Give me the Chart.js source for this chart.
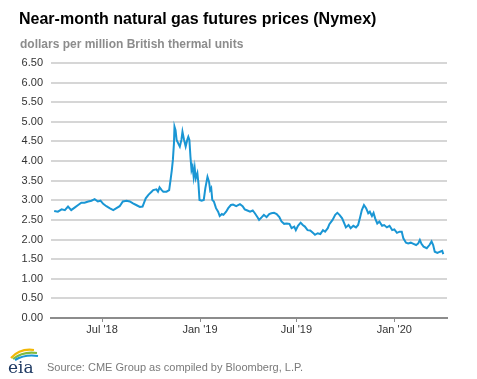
<!DOCTYPE html>
<html>
<head>
<meta charset="utf-8">
<script src="https://cdn.jsdelivr.net/npm/chart.js@4.4.1/dist/chart.umd.min.js"></script>
<style>
  html, body { margin: 0; padding: 0; background: #fff; }
  #wrap { position: relative; width: 477px; height: 379px; overflow: hidden; font-family: "Liberation Sans", Arial, sans-serif; }
  #c { position: absolute; left: 0; top: 0; }
  .title { position: absolute; left: 19px; top: 11px; font-size: 16px; line-height: 16px; font-weight: bold; color: #000; white-space: nowrap; }
  .sub { position: absolute; left: 20px; top: 38px; font-size: 12px; line-height: 12px; font-weight: bold; color: #8c8c8c; white-space: nowrap; }
  .src { position: absolute; left: 47px; top: 362px; font-size: 11px; line-height: 11px; color: #7a7a7a; white-space: nowrap; }
  #logo { position: absolute; left: 4px; top: 345px; }
</style>
</head>
<body>
<div id="wrap">
  <canvas id="c" width="477" height="379"></canvas>
  <div class="title">Near-month natural gas futures prices (Nymex)</div>
  <div class="sub">dollars per million British thermal units</div>
  <svg id="logo" width="40" height="34" viewBox="0 0 40 34">
    <path d="M7 13 Q16 3 30 5" stroke="#f2b705" stroke-width="2.2" fill="none"/>
    <path d="M9 14 Q19 6 33 8" stroke="#7dbb42" stroke-width="2.2" fill="none"/>
    <path d="M11 15 Q21 9 34 11" stroke="#1a96d4" stroke-width="2.2" fill="none"/>
    <text x="4" y="28" font-family="'DejaVu Serif', 'Liberation Serif', serif" font-size="17" fill="#1f3a63">eia</text>
  </svg>
  <div class="src">Source: CME Group as compiled by Bloomberg, L.P.</div>
</div>
<script>
const dates = [
'2018-04-02','2018-04-09','2018-04-16','2018-04-22','2018-04-28','2018-05-04','2018-05-11','2018-05-17','2018-05-23','2018-05-29',
'2018-06-05','2018-06-11','2018-06-17','2018-06-23','2018-06-28','2018-07-03','2018-07-09','2018-07-15','2018-07-22','2018-07-28',
'2018-08-03','2018-08-09','2018-08-16','2018-08-22','2018-08-28','2018-09-03','2018-09-10','2018-09-15','2018-09-21','2018-09-26',
'2018-10-02','2018-10-05','2018-10-11','2018-10-14','2018-10-17','2018-10-21','2018-10-24','2018-10-30','2018-11-04','2018-11-07',
'2018-11-09','2018-11-11','2018-11-13','2018-11-14','2018-11-16','2018-11-18','2018-11-21','2018-11-24','2018-11-27','2018-11-29',
'2018-12-02','2018-12-05','2018-12-08','2018-12-10','2018-12-12','2018-12-14','2018-12-16','2018-12-18','2018-12-20','2018-12-22',
'2018-12-24','2018-12-27','2018-12-29','2018-12-31','2019-01-04','2019-01-08','2019-01-11','2019-01-15','2019-01-18','2019-01-20',
'2019-01-22','2019-01-24','2019-01-27','2019-01-31','2019-02-04','2019-02-07','2019-02-11','2019-02-14','2019-02-19','2019-02-23',
'2019-02-28','2019-03-04','2019-03-10','2019-03-17','2019-03-22','2019-03-26','2019-03-31','2019-04-05','2019-04-10','2019-04-14',
'2019-04-19','2019-04-22','2019-04-27','2019-05-01','2019-05-06','2019-05-11','2019-05-15','2019-05-20','2019-05-25','2019-05-30',
'2019-06-03','2019-06-08','2019-06-13','2019-06-18','2019-06-22','2019-06-27','2019-06-30','2019-07-04','2019-07-09','2019-07-13',
'2019-07-17','2019-07-22','2019-07-27','2019-08-01','2019-08-05','2019-08-10','2019-08-15','2019-08-20','2019-08-24','2019-08-29',
'2019-09-01','2019-09-07','2019-09-12','2019-09-16','2019-09-20','2019-09-25','2019-09-29','2019-10-02','2019-10-07','2019-10-11',
'2019-10-16','2019-10-21','2019-10-25','2019-10-29','2019-11-01','2019-11-05','2019-11-09','2019-11-13','2019-11-16','2019-11-20',
'2019-11-23','2019-11-26','2019-11-30','2019-12-04','2019-12-09','2019-12-13','2019-12-18','2019-12-23','2019-12-28','2020-01-01',
'2020-01-06','2020-01-11','2020-01-15','2020-01-18','2020-01-23','2020-01-27','2020-02-01','2020-02-06','2020-02-11','2020-02-15',
'2020-02-18','2020-02-21','2020-02-25','2020-03-02','2020-03-07','2020-03-11','2020-03-14','2020-03-17','2020-03-22','2020-03-27',
'2020-03-31','2020-04-02'
];
const prices = [
2.73,2.71,2.77,2.75,2.84,2.75,2.82,2.88,2.94,2.94,
2.97,2.99,3.03,2.97,2.99,2.91,2.85,2.80,2.75,2.80,
2.85,2.97,2.99,2.97,2.92,2.88,2.83,2.84,3.05,3.14,
3.22,3.26,3.28,3.22,3.33,3.26,3.22,3.22,3.26,3.56,
3.77,4.03,4.45,4.88,4.79,4.54,4.45,4.37,4.54,4.75,
4.54,4.37,4.54,4.62,4.54,4.11,3.77,3.86,3.60,3.82,
3.56,3.69,3.43,3.01,2.99,3.01,3.31,3.60,3.47,3.26,
3.31,3.01,2.97,2.80,2.71,2.60,2.65,2.63,2.71,2.80,
2.88,2.89,2.85,2.90,2.85,2.77,2.74,2.71,2.74,2.67,
2.57,2.50,2.57,2.63,2.57,2.65,2.67,2.68,2.65,2.57,
2.46,2.40,2.41,2.40,2.29,2.33,2.24,2.35,2.43,2.37,
2.33,2.24,2.23,2.17,2.12,2.16,2.14,2.24,2.20,2.29,
2.39,2.50,2.63,2.68,2.63,2.54,2.41,2.31,2.37,2.29,
2.35,2.31,2.37,2.58,2.75,2.88,2.80,2.67,2.71,2.60,
2.68,2.54,2.41,2.46,2.35,2.37,2.31,2.35,2.24,2.26,
2.17,2.20,2.20,2.03,1.92,1.90,1.92,1.89,1.86,1.90,
1.99,1.89,1.82,1.78,1.86,1.95,1.86,1.69,1.66,1.69,
1.71,1.63
];
const tickDates = ['2018-07-01','2019-01-01','2019-07-01','2020-01-01'];
const tickLabels = ["Jul '18","Jan '19","Jul '19","Jan '20"];
const xRange = ['2018-03-27','2020-04-09'];

function dayNum(s) {
  const p = s.split('-').map(Number);
  return Date.UTC(p[0], p[1] - 1, p[2]) / 864e5;
}
const points = dates.map((d, i) => ({ x: dayNum(d), y: prices[i] }));

new Chart(document.getElementById('c'), {
  type: 'line',
  data: {
    datasets: [{
      data: points,
      borderColor: '#1a96d4',
      borderWidth: 2,
      pointRadius: 0,
      tension: 0,
      fill: false
    }]
  },
  options: {
    responsive: false,
    animation: false,
    layout: { padding: { left: 0, right: 30, top: 63, bottom: 0 } },
    plugins: { legend: { display: false }, tooltip: { enabled: false } },
    scales: {
      x: {
        type: 'linear',
        min: dayNum(xRange[0]),
        max: dayNum(xRange[1]),
        afterBuildTicks: (s) => { s.ticks = tickDates.map(d => ({ value: dayNum(d) })); },
        afterFit: (s) => { s.height = 61; },
        border: { display: true, color: '#8c8c8c', width: 2 },
        grid: { drawOnChartArea: false, drawTicks: true, tickLength: 4, color: '#8c8c8c', lineWidth: 1 },
        ticks: {
          autoSkip: false, maxRotation: 0, padding: 1,
          color: '#333', font: { family: '"Liberation Sans", Arial, sans-serif', size: 11 },
          callback: (v, i) => tickLabels[i]
        }
      },
      y: {
        min: 0, max: 6.5,
        afterFit: (s) => { s.width = 51; },
        border: { display: false },
        grid: {
          drawTicks: false,
          color: (ctx) => (ctx.tick && ctx.tick.value === 0) ? 'rgba(0,0,0,0)' : '#d6d6d6',
          lineWidth: 2
        },
        ticks: {
          stepSize: 0.5, padding: 8,
          color: '#333', font: { family: '"Liberation Sans", Arial, sans-serif', size: 11 },
          callback: (v) => Number(v).toFixed(2)
        }
      }
    }
  }
});
</script>
</body>
</html>
